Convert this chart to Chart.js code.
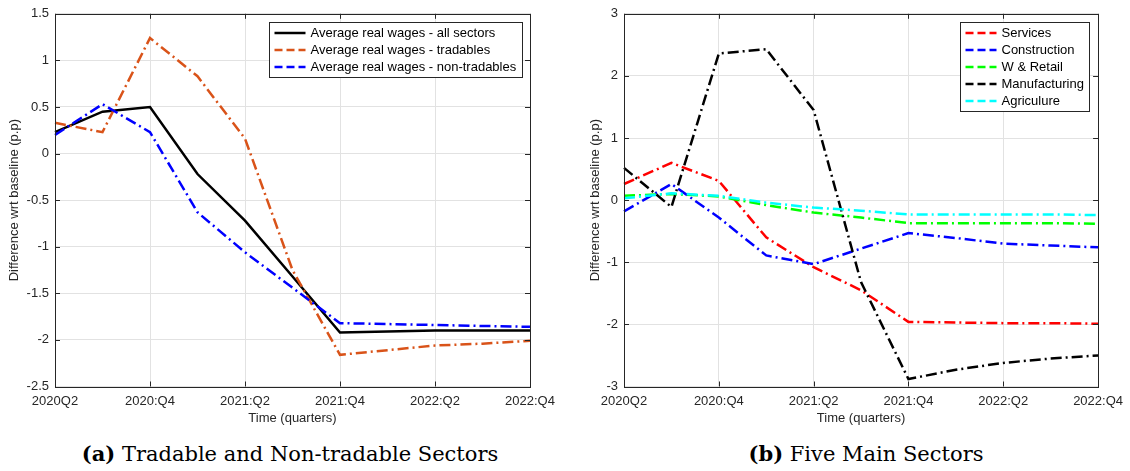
<!DOCTYPE html>
<html>
<head>
<meta charset="utf-8">
<script src="https://cdn.jsdelivr.net/npm/chart.js@4.4.1/dist/chart.umd.min.js"></script>
<style>
  body { margin: 0; background: #fff; width: 1130px; height: 471px; position: relative; overflow: hidden; }
  canvas { position: absolute; top: 0; }
  .cap { position: absolute; top: 441px; font-family: 'DejaVu Serif', serif; font-size: 21px; color: #000;
         white-space: nowrap; transform: translateX(-50%); }
</style>
</head>
<body>
<canvas id="wagesChart" width="565" height="430" style="left:0"></canvas>
<canvas id="sectorChart" width="550" height="430" style="left:580px"></canvas>
<div class="cap" style="left:290px"><b>(a)</b> Tradable and Non-tradable Sectors</div>
<div class="cap" style="left:866px"><b>(b)</b> Five Main Sectors</div>
<script>
// quarterly simulation horizon; only every second quarter gets a tick label
const quarters = ['2020Q2', '2020Q3', '2020:Q4', '2021:Q1', '2021:Q2', '2021:Q3', '2021:Q4', '2022:Q1', '2022:Q2', '2022:Q3', '2022:Q4'];
const tickQuarters = ['2020Q2', '2020:Q4', '2021:Q2', '2021:Q4', '2022:Q2', '2022:Q4'];

// (a) average real wages, difference wrt baseline (p.p)
const wagesAll      = [0.23, 0.45, 0.50, -0.22, -0.72, -1.32, -1.92, -1.91, -1.90, -1.90, -1.90];
const wagesTradable = [0.33, 0.23, 1.24, 0.83, 0.16, -1.25, -2.16, -2.11, -2.06, -2.04, -2.01];
const wagesNonTrad  = [0.20, 0.53, 0.23, -0.63, -1.06, -1.44, -1.82, -1.83, -1.84, -1.85, -1.86];
const wagesTicks    = [1.5, 1, 0.5, 0, -0.5, -1, -1.5, -2, -2.5];

// (b) five main sectors
const services      = [0.26, 0.60, 0.31, -0.60, -1.08, -1.45, -1.96, -1.97, -1.98, -1.98, -1.99];
const construction  = [-0.18, 0.26, -0.28, -0.89, -1.03, -0.78, -0.53, -0.61, -0.70, -0.73, -0.76];
const wRetail       = [0.07, 0.10, 0.06, -0.08, -0.20, -0.28, -0.37, -0.37, -0.37, -0.37, -0.38];
const manufacturing = [0.52, -0.11, 2.36, 2.43, 1.45, -1.32, -2.88, -2.73, -2.62, -2.55, -2.50];
const agriculture   = [0.03, 0.11, 0.07, -0.04, -0.12, -0.17, -0.23, -0.23, -0.23, -0.23, -0.24];
const sectorTicks   = [3, 2, 1, 0, -1, -2, -3];

const FONT = "'Liberation Sans', Arial, sans-serif";
const AXIS = '#262626';
const GRID = '#e2e2e2';
const DASHDOT = [11, 4, 2, 4];

function line(label, data, color, dash) {
  return { label, data, borderColor: color, backgroundColor: color, borderWidth: 2.5,
           borderDash: dash, pointRadius: 0, tension: 0, fill: false };
}

// box around the axes with inward ticks, plus a boxed legend in the top-right corner
const boxAxes = {
  id: 'boxAxes',
  afterDatasetsDraw(chart, args, opts) {
    const { ctx, chartArea: a, scales: { x, y } } = chart;
    const tl = 5;
    ctx.save();
    ctx.strokeStyle = AXIS;
    ctx.lineWidth = 1;
    ctx.setLineDash([]);
    ctx.beginPath();
    x.ticks.forEach((t, i) => {
      if (t.label == null) return;
      const px = Math.round(x.getPixelForTick(i)) + 0.5;
      ctx.moveTo(px, a.bottom); ctx.lineTo(px, a.bottom - tl);
      ctx.moveTo(px, a.top); ctx.lineTo(px, a.top + tl);
    });
    y.ticks.forEach((t, i) => {
      const py = Math.round(y.getPixelForTick(i)) + 0.5;
      ctx.moveTo(a.left, py); ctx.lineTo(a.left + tl, py);
      ctx.moveTo(a.right, py); ctx.lineTo(a.right - tl, py);
    });
    ctx.stroke();
    ctx.strokeRect(Math.round(a.left) + 0.5, Math.round(a.top) + 0.5,
                   Math.round(a.right - a.left), Math.round(a.bottom - a.top));

    // legend
    const sets = chart.data.datasets;
    ctx.font = '13px ' + FONT;
    const textW = Math.max(...sets.map((d) => ctx.measureText(d.label).width));
    const rowH = 17, sample = 31;
    const w = 5 + sample + 5 + textW + 6;
    const h = rowH * sets.length + 4;
    const bx = Math.round(a.right - opts.right - w) + 0.5;
    const by = Math.round(a.top + opts.top) + 0.5;
    ctx.fillStyle = '#fff';
    ctx.fillRect(bx, by, w, h);
    ctx.strokeStyle = AXIS;
    ctx.strokeRect(bx, by, Math.round(w), h);
    ctx.textBaseline = 'middle';
    sets.forEach((d, i) => {
      const ry = by + 2 + rowH * (i + 0.5);
      ctx.strokeStyle = d.borderColor;
      ctx.lineWidth = 2.5;
      ctx.setLineDash(d.borderDash.length ? [8, 4] : []);
      ctx.beginPath();
      ctx.moveTo(bx + 5, ry); ctx.lineTo(bx + 5 + sample, ry);
      ctx.stroke();
      ctx.fillStyle = '#000';
      ctx.fillText(d.label, bx + 5 + sample + 5, ry + 0.5);
    });
    ctx.restore();
  }
};

function makeChart(id, datasets, ticks, geo) {
  const step = ticks[0] - ticks[1];
  // later series drawn on top
  datasets.forEach((d, i) => { d.order = datasets.length - i; });
  return new Chart(document.getElementById(id), {
    type: 'line',
    data: { labels: quarters, datasets },
    plugins: [boxAxes],
    options: {
      responsive: false,
      devicePixelRatio: 1,
      animation: false,
      layout: { padding: { top: geo.top, right: geo.right, left: 0, bottom: 0 } },
      plugins: { legend: { display: false }, tooltip: { enabled: false }, boxAxes: geo.legend },
      scales: {
        x: {
          afterFit: (s) => { s.height = 43.5; },
          grid: { color: GRID, drawTicks: false },
          border: { display: false },
          ticks: {
            autoSkip: false, maxRotation: 0, padding: 7, color: AXIS,
            font: { family: FONT, size: 13 },
            callback(v) {
              const l = this.getLabelForValue(v);
              return tickQuarters.includes(l) ? l : null;
            }
          },
          title: { display: true, text: 'Time (quarters)', color: AXIS,
                   font: { family: FONT, size: 13 }, padding: { top: 0, bottom: 4 } }
        },
        y: {
          min: ticks[ticks.length - 1], max: ticks[0],
          afterFit: (s) => { s.width = geo.yWidth; },
          grid: { color: GRID, drawTicks: false },
          border: { display: false },
          ticks: { stepSize: step, padding: 6, color: AXIS, font: { family: FONT, size: 13 },
                   callback: (v) => String(Math.round(v * 10) / 10) },
          title: { display: true, text: 'Difference wrt baseline (p.p)', color: AXIS,
                   font: { family: FONT, size: 13 }, padding: { top: geo.titlePad, bottom: 0 } }
        }
      }
    }
  });
}

makeChart('wagesChart', [
  line('Average real wages - all sectors', wagesAll, '#000000', []),
  line('Average real wages - tradables', wagesTradable, '#D95319', DASHDOT),
  line('Average real wages - non-tradables', wagesNonTrad, '#0000FF', DASHDOT)
], wagesTicks, { top: 12.5, right: 35, yWidth: 55, titlePad: 7, legend: { right: 8, top: 8.5 } });

makeChart('sectorChart', [
  line('Services', services, '#FF0000', DASHDOT),
  line('Construction', construction, '#0000FF', DASHDOT),
  line('W & Retail', wRetail, '#00FF00', DASHDOT),
  line('Manufacturing', manufacturing, '#000000', DASHDOT),
  line('Agriculure', agriculture, '#00FFFF', DASHDOT)
], sectorTicks, { top: 11, right: 31, yWidth: 44, titlePad: 8, legend: { right: 9, top: 8 } });
</script>
</body>
</html>
